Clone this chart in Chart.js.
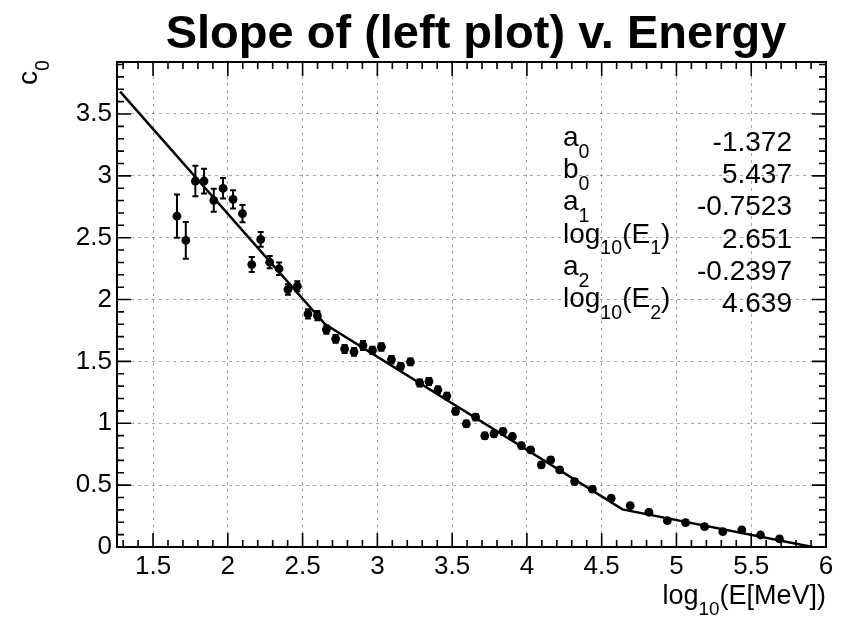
<!DOCTYPE html>
<html>
<head>
<meta charset="utf-8">
<script src="https://cdn.jsdelivr.net/npm/chart.js@4.4.1/dist/chart.umd.min.js"></script>
<style>
  html, body { margin: 0; padding: 0; background: #fff; }
  #wrap { width: 846px; height: 621px; }
</style>
</head>
<body>
<div id="wrap"><canvas id="graph" width="846" height="621"></canvas></div>
<script>
const FONT = '"Liberation Sans", Arial, Helvetica, sans-serif';

const energy = [1.660, 1.719, 1.783, 1.841, 1.906, 1.968, 2.035, 2.098, 2.160, 2.220,
  2.280, 2.343, 2.402, 2.465, 2.536, 2.599, 2.659, 2.721, 2.781, 2.844,
  2.904, 2.967, 3.027, 3.094, 3.156, 3.221, 3.283, 3.345, 3.405, 3.465,
  3.523, 3.595, 3.657, 3.718, 3.780, 3.840, 3.903, 3.963, 4.025, 4.096,
  4.159, 4.219, 4.319, 4.438, 4.564, 4.691, 4.816, 4.939, 5.061, 5.188,
  5.310, 5.437, 5.562, 5.689];
const slope = [2.674, 2.478, 2.958, 2.958, 2.802, 2.899, 2.810, 2.694, 2.283, 2.486,
  2.302, 2.249, 2.081, 2.108, 1.884, 1.870, 1.757, 1.682, 1.601, 1.577,
  1.628, 1.589, 1.617, 1.514, 1.460, 1.496, 1.326, 1.338, 1.271, 1.220,
  1.096, 0.996, 1.050, 0.899, 0.915, 0.934, 0.893, 0.820, 0.785, 0.664,
  0.704, 0.623, 0.529, 0.467, 0.394, 0.334, 0.281, 0.213, 0.197, 0.164,
  0.124, 0.138, 0.097, 0.065];
const slopeErr = [0.175, 0.148, 0.124, 0.100, 0.093, 0.083, 0.074, 0.070, 0.060, 0.060,
  0.050, 0.050, 0.042, 0.040, 0.038, 0.038, 0.034, 0.032, 0.032, 0.032,
  0.036, 0.030, 0.030, 0.030, 0.028, 0.028, 0.028, 0.028, 0.026, 0.026,
  0.026, 0.025, 0.025, 0.024, 0.024, 0.024, 0.023, 0.023, 0.022, 0.022,
  0.022, 0.021, 0.021, 0.020, 0.020, 0.020, 0.019, 0.019, 0.018, 0.018,
  0.018, 0.018, 0.017, 0.017];

// fit line corners
const fitEnergy = [1.28, 2.651, 4.639, 5.91];
const fitSlope = [3.68, 1.800, 0.304, 0.0];

const titleText = 'Slope of (left plot) v. Energy';
const xTitle = 'log_{10}(E[MeV])';
const yTitle = 'c_{0}';
const paramNames = ['a_{0}', 'b_{0}', 'a_{1}', 'log_{10}(E_{1})', 'a_{2}', 'log_{10}(E_{2})'];
const paramValues = ['-1.372', '5.437', '-0.7523', '2.651', '-0.2397', '4.639'];

// split "a_{0}" into normal / subscript pieces
function pieces(str) {
  const out = [];
  const re = /_\{([^}]*)\}/g;
  let last = 0, m;
  while ((m = re.exec(str))) {
    if (m.index > last) out.push([str.slice(last, m.index), false]);
    out.push([m[1], true]);
    last = re.lastIndex;
  }
  if (last < str.length) out.push([str.slice(last), false]);
  return out;
}

function drawRich(ctx, str, x, y, size, align) {
  const subSize = size * 0.7;
  const parts = pieces(str);
  let total = 0;
  parts.forEach(p => {
    ctx.font = (p[1] ? subSize : size) + 'px ' + FONT;
    total += ctx.measureText(p[0]).width;
  });
  let cx = align === 'right' ? x - total : x;
  ctx.textAlign = 'left';
  ctx.textBaseline = 'alphabetic';
  parts.forEach(p => {
    ctx.font = (p[1] ? subSize : size) + 'px ' + FONT;
    ctx.fillText(p[0], cx, y + (p[1] ? size * 0.42 : 0));
    cx += ctx.measureText(p[0]).width;
  });
}

const rootStyle = {
  id: 'rootStyle',
  beforeDraw(chart) {
    const ctx = chart.ctx;
    ctx.save();
    ctx.fillStyle = '#fff';
    ctx.fillRect(0, 0, chart.width, chart.height);
    ctx.restore();
  },
  beforeDatasetsDraw(chart) {
    // error bars
    const ctx = chart.ctx;
    const xs = chart.scales.x, ys = chart.scales.y;
    ctx.save();
    ctx.strokeStyle = '#000';
    ctx.lineWidth = 2;
    energy.forEach((e, i) => {
      const px = xs.getPixelForValue(e);
      const top = ys.getPixelForValue(slope[i] + slopeErr[i]);
      const bot = ys.getPixelForValue(slope[i] - slopeErr[i]);
      ctx.beginPath();
      ctx.moveTo(px, top); ctx.lineTo(px, bot);
      ctx.moveTo(px - 3, top); ctx.lineTo(px + 3, top);
      ctx.moveTo(px - 3, bot); ctx.lineTo(px + 3, bot);
      ctx.stroke();
    });
    ctx.restore();
  },
  afterDraw(chart) {
    const ctx = chart.ctx;
    const a = chart.chartArea;
    const xs = chart.scales.x, ys = chart.scales.y;
    ctx.save();
    ctx.strokeStyle = '#000';
    ctx.fillStyle = '#000';

    // frame
    ctx.lineWidth = 2;
    ctx.strokeRect(a.left, a.top, a.right - a.left, a.bottom - a.top);

    // inward ticks on all four sides
    ctx.lineWidth = 1.6;
    ctx.beginPath();
    for (let i = Math.ceil(xs.min * 10); i <= Math.floor(xs.max * 10 + 1e-6); i++) {
      const px = xs.getPixelForValue(i / 10);
      const len = i % 5 === 0 ? 14 : 7;
      ctx.moveTo(px, a.bottom); ctx.lineTo(px, a.bottom - len);
      ctx.moveTo(px, a.top); ctx.lineTo(px, a.top + len);
    }
    for (let i = Math.ceil(ys.min * 10); i <= Math.floor(ys.max * 10 + 1e-6); i++) {
      const py = ys.getPixelForValue(i / 10);
      const len = i % 5 === 0 ? 14 : 7;
      ctx.moveTo(a.left, py); ctx.lineTo(a.left + len, py);
      ctx.moveTo(a.right, py); ctx.lineTo(a.right - len, py);
    }
    ctx.stroke();

    // title
    ctx.font = 'bold 47px ' + FONT;
    ctx.textAlign = 'center';
    ctx.textBaseline = 'alphabetic';
    ctx.fillText(titleText, 476, 48);

    // axis titles
    drawRich(ctx, xTitle, a.right, 604, 27, 'right');
    ctx.save();
    ctx.translate(37, 60);
    ctx.rotate(-Math.PI / 2);
    drawRich(ctx, yTitle, 0, 0, 28, 'right');
    ctx.restore();

    // fit parameters
    paramNames.forEach((name, i) => {
      const base = 151 + i * 32.2;
      drawRich(ctx, name, 563, base - 5, 28, 'left');
      drawRich(ctx, paramValues[i], 792, base, 28, 'right');
    });
    ctx.restore();
  }
};

const tickFmt = v => String(Math.round(v * 10) / 10);

new Chart(document.getElementById('graph').getContext('2d'), {
  type: 'scatter',
  data: {
    datasets: [{
      label: 'fit',
      data: fitEnergy.map((x, i) => ({ x: x, y: fitSlope[i] })),
      showLine: true,
      borderColor: '#000',
      borderWidth: 2.5,
      pointRadius: 0,
      tension: 0
    }, {
      label: 'c0',
      data: energy.map((x, i) => ({ x: x, y: slope[i] })),
      backgroundColor: '#000',
      borderWidth: 0,
      pointRadius: 4.4
    }]
  },
  options: {
    responsive: false,
    animation: false,
    devicePixelRatio: 1,
    layout: { padding: { left: 0, right: 20, top: 62, bottom: 0 } },
    plugins: { legend: { display: false }, tooltip: { enabled: false } },
    scales: {
      x: {
        type: 'linear',
        min: 1.259,
        max: 6.0,
        afterFit: s => { s.height = 74; },
        grid: { color: 'rgba(0,0,0,0.35)', lineWidth: 1, drawTicks: false },
        border: { display: false, dash: [3, 4] },
        ticks: {
          stepSize: 0.5,
          includeBounds: false,
          maxRotation: 0,
          autoSkip: false,
          padding: 4,
          color: '#000',
          font: { family: FONT, size: 26 },
          callback: tickFmt
        }
      },
      y: {
        type: 'linear',
        min: 0,
        max: 3.92,
        afterFit: s => { s.width = 117; },
        grid: { color: 'rgba(0,0,0,0.35)', lineWidth: 1, drawTicks: false },
        border: { display: false, dash: [3, 4] },
        ticks: {
          stepSize: 0.5,
          includeBounds: false,
          autoSkip: false,
          padding: 5,
          color: '#000',
          font: { family: FONT, size: 26 },
          callback: tickFmt
        }
      }
    }
  },
  plugins: [rootStyle]
});
</script>
</body>
</html>
